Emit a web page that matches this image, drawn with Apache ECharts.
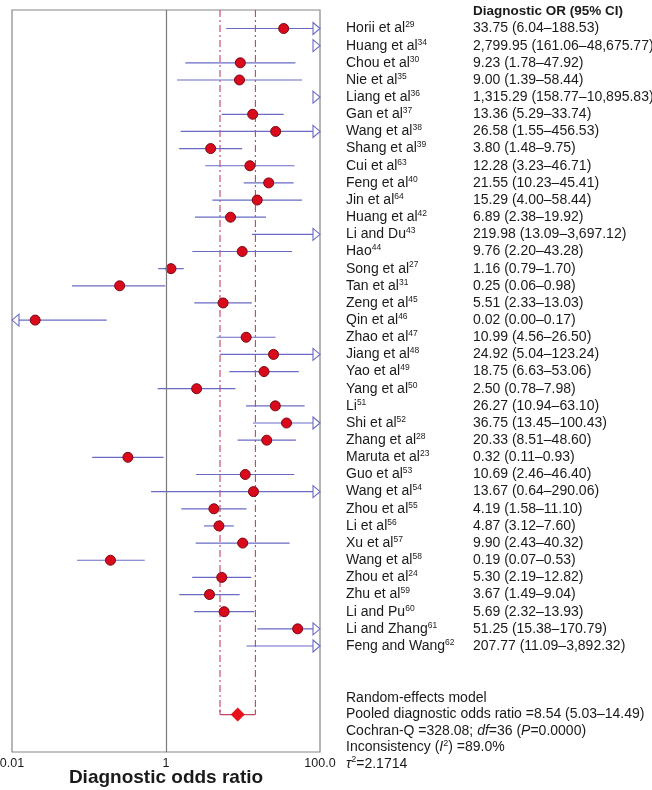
<!DOCTYPE html>
<html>
<head>
<meta charset="utf-8">
<script src="https://cdn.jsdelivr.net/npm/echarts@6/dist/echarts.min.js"></script>
<style>
html,body{margin:0;padding:0;background:#fff;}
#chart{width:652px;height:790px;}
</style>
</head>
<body>
<div id="chart"></div>
<script>
// ---- data ----
const studyNames = ['Horii et al','Huang et al','Chou et al','Nie et al','Liang et al','Gan et al','Wang et al','Shang et al','Cui et al','Feng et al','Jin et al','Huang et al','Li and Du','Hao','Song et al','Tan et al','Zeng et al','Qin et al','Zhao et al','Jiang et al','Yao et al','Yang et al','Li','Shi et al','Zhang et al','Maruta et al','Guo et al','Wang et al','Zhou et al','Li et al','Xu et al','Wang et al','Zhou et al','Zhu et al','Li and Pu','Li and Zhang','Feng and Wang'];
const studyRefs = [29,34,30,35,36,37,38,39,63,40,64,42,43,44,27,31,45,46,47,48,49,50,51,52,28,23,53,54,55,56,57,58,24,59,60,61,62];
const oddsRatio = [33.75,2799.95,9.23,9.00,1315.29,13.36,26.58,3.80,12.28,21.55,15.29,6.89,219.98,9.76,1.16,0.25,5.51,0.02,10.99,24.92,18.75,2.50,26.27,36.75,20.33,0.32,10.69,13.67,4.19,4.87,9.90,0.19,5.30,3.67,5.69,51.25,207.77];
const ciLower = [6.04,161.06,1.78,1.39,158.77,5.29,1.55,1.48,3.23,10.23,4.00,2.38,13.09,2.20,0.79,0.06,2.33,0.00,4.56,5.04,6.63,0.78,10.94,13.45,8.51,0.11,2.46,0.64,1.58,3.12,2.43,0.07,2.19,1.49,2.32,15.38,11.09];
const ciUpper = [188.53,48675.77,47.92,58.44,10895.83,33.74,456.53,9.75,46.71,45.41,58.44,19.92,3697.12,43.28,1.70,0.98,13.03,0.17,26.50,123.24,53.06,7.98,63.10,100.43,48.60,0.93,46.40,290.06,11.10,7.60,40.32,0.53,12.82,9.04,13.93,170.79,3892.32];
const pooledOR = 8.54, pooledLower = 5.03, pooledUpper = 14.49;
const cochranQ = 328.08, degreesFreedom = 36, pValue = '0.0000', inconsistency = '89.0', tau2 = '2.1714';
const xTickValues = [0.01, 1, 100];
const xTickLabels = ['0.01', '1', '100.0'];
const nullEffect = 1;

// ---- layout / style ----
const X_MIN = 0.01, X_MAX = 100;
const Y_MIN = -1.08, Y_MAX = 42.18;
const POOLED_ROW = 40;
const FONT = 'Liberation Sans, Arial, sans-serif';
const TXT = '#1a1a1a';
const CI_COLOR = '#6a6ac6';
const DASH_COLOR = '#c4435f';

const fmt = v => v.toLocaleString('en-US', {minimumFractionDigits: 2, maximumFractionDigits: 2});
const rowIdx = studyNames.map((_, i) => i);

const chart = echarts.init(document.getElementById('chart'), null, {renderer: 'canvas'});

const summaryText = [
  'Random-effects model',
  'Pooled diagnostic odds ratio =' + fmt(pooledOR) + ' (' + fmt(pooledLower) + '–' + fmt(pooledUpper) + ')',
  'Cochran-Q =' + fmt(cochranQ) + '; {i|df}=' + degreesFreedom + ' ({i|P}=' + pValue + ')',
  'Inconsistency ({i|I}{u|2}) =' + inconsistency + '%',
  '{i|τ}{u|2}=' + tau2
].join('\n');

const option = {
  backgroundColor: '#fff',
  animation: false,
  textStyle: {fontFamily: FONT},
  title: [
    {
      text: 'Diagnostic OR (95% CI)',
      left: 473, top: 3.5, padding: 0,
      textStyle: {fontFamily: FONT, fontSize: 13.5, fontWeight: 'bold', color: TXT, lineHeight: 16}
    },
    {
      text: summaryText,
      left: 346, top: 689.5, padding: 0,
      textStyle: {
        fontFamily: FONT, fontSize: 14, fontWeight: 'normal', color: TXT, lineHeight: 16.5,
        rich: {
          i: {fontFamily: FONT, fontSize: 14, fontStyle: 'italic', color: TXT, lineHeight: 16.5},
          u: {fontFamily: FONT, fontSize: 9, color: TXT, lineHeight: 10, verticalAlign: 'top'}
        }
      }
    }
  ],
  grid: {
    left: 12, top: 10, width: 308, height: 742,
    show: true, borderColor: '#858585', borderWidth: 1.2, backgroundColor: 'transparent',
    containLabel: false, outerBoundsMode: 'none'
  },
  xAxis: {
    type: 'log', logBase: 10, min: X_MIN, max: X_MAX,
    axisLine: {show: false}, axisTick: {show: false}, splitLine: {show: false},
    axisLabel: {
      customValues: xTickValues,
      margin: 5, fontFamily: FONT, fontSize: 12.5, color: TXT,
      formatter: v => {
        let best = 0;
        xTickValues.forEach((t, k) => { if (Math.abs(Math.log10(t) - Math.log10(v)) < Math.abs(Math.log10(xTickValues[best]) - Math.log10(v))) best = k; });
        return xTickLabels[best];
      }
    },
    name: 'Diagnostic odds ratio', nameLocation: 'middle', nameGap: 16, nameMoveOverlap: false,
    nameTextStyle: {fontFamily: FONT, fontSize: 19, fontWeight: 'bold', color: TXT}
  },
  yAxis: [
    {
      type: 'value', inverse: true, min: Y_MIN, max: Y_MAX, position: 'right',
      axisLine: {show: false}, axisTick: {show: false}, splitLine: {show: false},
      axisLabel: {
        customValues: rowIdx, margin: 26,
        formatter: v => { const i = Math.round(v); return '{n|' + studyNames[i] + '}{s|' + studyRefs[i] + '}'; },
        rich: {
          n: {fontFamily: FONT, fontSize: 14, color: TXT, lineHeight: 16},
          s: {fontFamily: FONT, fontSize: 8.5, color: TXT, lineHeight: 10, verticalAlign: 'top'}
        }
      }
    },
    {
      type: 'value', inverse: true, min: Y_MIN, max: Y_MAX, position: 'right',
      axisLine: {show: false}, axisTick: {show: false}, splitLine: {show: false},
      axisLabel: {
        customValues: rowIdx, margin: 153, fontFamily: FONT, fontSize: 14, color: TXT,
        formatter: v => { const i = Math.round(v); return fmt(oddsRatio[i]) + ' (' + fmt(ciLower[i]) + '–' + fmt(ciUpper[i]) + ')'; }
      }
    }
  ],
  series: [
    {
      // pooled estimate: dash-dot CI lines and bracket
      type: 'custom', yAxisIndex: 0, z: 1,
      encode: {x: [0, 1], y: 2},
      data: [[pooledLower, pooledUpper, POOLED_ROW]],
      renderItem: (params, api) => {
        const lo = api.value(0), hi = api.value(1), row = api.value(2);
        const pLoTop = api.coord([lo, Y_MIN]), pLoRow = api.coord([lo, row]);
        const pHiTop = api.coord([hi, Y_MIN]), pHiRow = api.coord([hi, row]);
        const dash = {stroke: DASH_COLOR, lineWidth: 1.1, lineDash: [7, 3, 2, 3]};
        return {
          type: 'group',
          children: [
            {type: 'line', shape: {x1: pLoTop[0], y1: pLoTop[1], x2: pLoRow[0], y2: pLoRow[1]}, style: dash},
            {type: 'line', shape: {x1: pHiTop[0], y1: pHiTop[1], x2: pHiRow[0], y2: pHiRow[1]}, style: dash},
            {type: 'line', shape: {x1: pLoRow[0], y1: pLoRow[1] - 5, x2: pLoRow[0], y2: pLoRow[1]}, style: {stroke: DASH_COLOR, lineWidth: 1.1}},
            {type: 'line', shape: {x1: pHiRow[0], y1: pHiRow[1] - 5, x2: pHiRow[0], y2: pHiRow[1]}, style: {stroke: DASH_COLOR, lineWidth: 1.1}},
            {type: 'line', shape: {x1: pLoRow[0], y1: pLoRow[1], x2: pHiRow[0], y2: pHiRow[1]}, style: {stroke: DASH_COLOR, lineWidth: 1.1}}
          ]
        };
      }
    },
    {
      // study confidence intervals with arrows when clipped
      type: 'custom', yAxisIndex: 0, z: 2,
      encode: {y: 0},
      data: rowIdx.map(i => [i, ciLower[i], ciUpper[i]]),
      renderItem: (params, api) => {
        const i = api.value(0), lo = api.value(1), hi = api.value(2);
        const y = api.coord([1, i])[1];
        const xL = api.coord([X_MIN, i])[0], xR = api.coord([X_MAX, i])[0];
        const aw = 7, ah = 6;
        const children = [];
        const leftClip = lo < X_MIN, rightClip = hi > X_MAX;
        if (lo < X_MAX) {
          const x1 = leftClip ? xL + aw : api.coord([lo, i])[0];
          const x2 = rightClip ? xR - aw : api.coord([hi, i])[0];
          children.push({type: 'line', shape: {x1: x1, y1: y, x2: x2, y2: y}, style: {stroke: CI_COLOR, lineWidth: 1.2}});
        }
        if (rightClip) {
          children.push({type: 'polygon', shape: {points: [[xR, y], [xR - aw, y - ah], [xR - aw, y + ah]]}, style: {fill: '#fff', stroke: CI_COLOR, lineWidth: 1.1}});
        }
        if (leftClip) {
          children.push({type: 'polygon', shape: {points: [[xL, y], [xL + aw, y - ah], [xL + aw, y + ah]]}, style: {fill: '#fff', stroke: CI_COLOR, lineWidth: 1.1}});
        }
        return {type: 'group', children: children};
      }
    },
    {
      // study point estimates
      type: 'scatter', yAxisIndex: 0, z: 3,
      symbol: 'circle', symbolSize: 10,
      itemStyle: {color: '#d80a1c', borderColor: '#7a0812', borderWidth: 1, opacity: 1},
      data: rowIdx.filter(i => oddsRatio[i] >= X_MIN && oddsRatio[i] <= X_MAX).map(i => [oddsRatio[i], i]),
      markLine: {
        silent: true, symbol: ['none', 'none'], label: {show: false},
        lineStyle: {color: '#7a7a7a', type: 'solid', width: 1.2, opacity: 1},
        data: [{xAxis: nullEffect}]
      }
    },
    {
      // pooled diamond
      type: 'scatter', yAxisIndex: 0, z: 4,
      symbol: 'diamond', symbolSize: [14, 14],
      itemStyle: {color: '#e8101a', opacity: 1},
      data: [[pooledOR, POOLED_ROW]]
    }
  ]
};
chart.setOption(option);
</script>
</body>
</html>
